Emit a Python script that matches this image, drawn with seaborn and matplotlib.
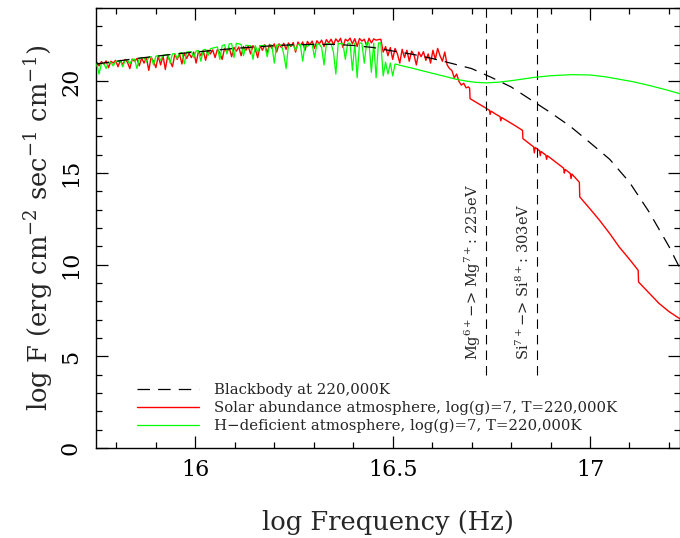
import numpy as np
import pandas as pd
import matplotlib
matplotlib.use("Agg")
import matplotlib.pyplot as plt
import seaborn as sns
from matplotlib.ticker import MultipleLocator

# blackbody at 220,000K
bb_freq = [15.75, 15.80, 15.85, 15.90, 15.95, 16.00, 16.05, 16.10, 16.15, 16.20,
           16.25, 16.30, 16.35, 16.40, 16.45, 16.50, 16.55, 16.60, 16.65, 16.70,
           16.75, 16.80, 16.85, 16.90, 16.95, 17.00, 17.05, 17.10, 17.15, 17.20, 17.228]
bb_flux = [20.95, 21.10, 21.25, 21.37, 21.50, 21.60, 21.70, 21.80, 21.88, 21.95,
           22.00, 22.02, 22.02, 21.96, 21.85, 21.66, 21.48, 21.25, 20.98, 20.70,
           20.22, 19.70, 19.00, 18.30, 17.55, 16.66, 15.75, 14.50, 12.87, 11.00, 9.80]

# line-blanketed part of the models, sampled every 0.006 dex from 15.75
grid_start = 15.75
grid_step = 0.006

solar_lined_flux = [
    21.05, 20.85, 21.08, 20.95, 21.12, 20.75, 21.10, 21.00, 21.15, 20.80,
    21.15, 20.90, 21.20, 21.05, 20.70, 21.22, 21.10, 21.25, 20.85, 21.28,
    21.00, 21.30, 20.60, 21.32, 21.10, 20.75, 21.38, 20.90, 21.40, 20.65,
    21.42, 21.10, 20.80, 21.48, 21.20, 21.50, 20.95, 21.55, 21.25, 21.52,
    21.30, 21.60, 21.00, 21.65, 21.40, 21.68, 21.15, 21.70, 21.50, 21.72,
    21.30, 21.75, 21.55, 21.20, 21.80, 21.60, 21.82, 21.35, 21.85, 21.65,
    21.88, 21.40, 21.90, 21.70, 21.92, 21.50, 21.95, 21.75, 21.30, 21.95,
    21.70, 22.00, 21.55, 22.02, 21.80, 22.05, 21.60, 22.05, 21.85, 22.08,
    21.75, 22.10, 21.90, 22.12, 21.60, 22.15, 21.95, 22.15, 21.70, 22.18,
    22.00, 22.20, 21.80, 22.22, 22.05, 22.25, 21.90, 22.28, 22.10, 22.30,
    22.00, 22.32, 22.15, 22.35, 21.85, 22.30, 22.20, 22.36, 22.05, 22.33,
    21.90, 22.34, 22.20, 22.30, 21.95, 22.35, 22.10, 22.32, 22.25, 22.28,
    22.30, 21.60, 21.90, 21.40, 21.85, 21.20, 21.80, 21.50, 21.00, 21.75,
    21.30, 21.70, 21.10, 21.65, 21.45, 20.90, 21.60, 21.35, 21.62, 21.15,
    21.50, 21.00, 21.70, 21.20, 21.80, 21.40, 21.10, 21.60, 20.90, 20.70,
    20.60, 20.20, 20.40, 20.00, 19.80, 19.90, 19.65, 19.70,
]
solar_tail_freq = [16.695, 16.696, 16.710, 16.720, 16.737, 16.745, 16.747, 16.749,
                   16.760, 16.772, 16.774, 16.776, 16.787, 16.810, 16.829, 16.830,
                   16.845, 16.857, 16.859, 16.861, 16.872, 16.874, 16.876, 16.888,
                   16.890, 16.892, 16.910, 16.933, 16.935, 16.937, 16.950, 16.952,
                   16.954, 16.973, 16.974, 17.000, 17.024, 17.050, 17.074, 17.100,
                   17.122, 17.123, 17.150, 17.175, 17.200, 17.228]
solar_tail_flux = [19.62, 19.06, 18.88, 18.75, 18.53, 18.43, 18.20, 18.38,
                   18.23, 18.08, 17.85, 18.03, 17.89, 17.59, 17.33, 16.88,
                   16.63, 16.43, 16.10, 16.40, 16.22, 15.95, 16.18, 15.98,
                   15.75, 15.95, 15.65, 15.27, 15.00, 15.20, 14.98, 14.70,
                   14.95, 14.50, 13.70, 13.05, 12.43, 11.70, 10.97, 10.30,
                   9.70, 9.06, 8.45, 7.89, 7.45, 7.05]

hdef_lined_flux = [
    20.95, 20.40, 21.00, 20.98, 20.70, 21.05, 21.03, 20.85, 21.08, 21.10,
    21.12, 20.80, 21.15, 21.18, 20.95, 21.20, 21.22, 20.70, 21.25, 21.28,
    21.30, 21.05, 21.33, 21.35, 20.90, 21.38, 21.40, 21.15, 21.42, 21.45,
    21.47, 21.00, 21.50, 21.52, 21.25, 21.55, 21.57, 20.95, 21.60, 21.62,
    21.63, 21.30, 21.66, 21.68, 21.10, 21.72, 21.75, 21.40, 21.78, 21.82,
    21.85, 21.88, 21.20, 21.95, 22.00, 21.50, 22.05, 22.06, 21.30, 22.08,
    22.05, 22.02, 21.40, 21.97, 21.96, 21.95, 21.20, 21.95, 21.60, 21.95,
    21.96, 21.97, 21.35, 21.97, 21.98, 21.00, 21.98, 21.98, 21.99, 21.50,
    20.70, 22.00, 21.95, 22.00, 21.70, 22.01, 22.01, 21.10, 22.02, 21.90,
    22.03, 22.02, 21.30, 22.04, 22.03, 21.85, 20.90, 22.05, 22.05, 22.04,
    21.60, 20.40, 22.07, 22.06, 22.07, 21.20, 22.08, 22.08, 20.60, 22.09,
    20.20, 22.10, 22.08, 21.00, 22.10, 22.10, 20.50, 22.09, 20.20, 22.10,
    22.10, 20.30, 21.05, 20.40, 21.00, 20.30, 20.95, 20.92, 20.88, 20.85,
]
hdef_tail_freq = [16.530, 16.550, 16.568, 16.600, 16.635, 16.660, 16.686, 16.710,
                  16.737, 16.770, 16.804, 16.830, 16.859, 16.900, 16.956, 17.000,
                  17.040, 17.074, 17.110, 17.150, 17.190, 17.228]
hdef_tail_flux = [20.82, 20.72, 20.62, 20.45, 20.26, 20.12, 20.02, 19.95,
                  19.92, 19.96, 20.05, 20.13, 20.22, 20.31, 20.37, 20.35,
                  20.25, 20.12, 19.98, 19.78, 19.56, 19.33]

# ionisation edges
edge_freq = [16.736, 16.865]
edge_labels = [r"Mg$^{6+}$$-$> Mg$^{7+}$: 225eV", r"Si$^{7+}$$-$> Si$^{8+}$: 303eV"]


def lined_freq(n):
    return np.round(grid_start + grid_step * np.arange(n), 3)


solar = pd.DataFrame({
    "freq": np.concatenate([lined_freq(len(solar_lined_flux)), solar_tail_freq]),
    "flux": solar_lined_flux + solar_tail_flux,
})
hdef = pd.DataFrame({
    "freq": np.concatenate([lined_freq(len(hdef_lined_flux)), hdef_tail_freq]),
    "flux": hdef_lined_flux + hdef_tail_flux,
})
bb = pd.DataFrame({"freq": bb_freq, "flux": bb_flux})

sns.set_style("ticks")
plt.rcParams["font.family"] = ["DejaVu Serif"]
plt.rcParams["mathtext.fontset"] = "dejavuserif"

fig, ax = plt.subplots(figsize=(6.8, 5.38), dpi=100)
fig.subplots_adjust(left=0.141, right=1.0, bottom=0.167, top=0.985)

sns.lineplot(data=bb, x="freq", y="flux", ax=ax, color="black", lw=0.9,
             linestyle=(0, (10, 6.5)), estimator=None, sort=False, zorder=4,
             label="Blackbody at 220,000K")
sns.lineplot(data=solar, x="freq", y="flux", ax=ax, color="#ff0000", lw=1.0,
             estimator=None, sort=False, zorder=2,
             label="Solar abundance atmosphere, log(g)=7, T=220,000K")
sns.lineplot(data=hdef, x="freq", y="flux", ax=ax, color="#00ff00", lw=0.9,
             estimator=None, sort=False, zorder=3,
             label="H\u2212deficient atmosphere, log(g)=7, T=220,000K")

ax.vlines(edge_freq, 4, 24, colors="black", linestyles=(0, (8.5, 5.5)), lw=0.8)
for f, txt in zip(edge_freq, edge_labels):
    ax.text(f - 0.033, 4.8, txt, rotation=90, ha="center", va="bottom", fontsize=10.5)

ax.set_xlim(15.748, 17.228)
ax.set_ylim(0, 24)
ax.xaxis.set_major_locator(MultipleLocator(0.5))
ax.xaxis.set_minor_locator(MultipleLocator(0.1))
ax.yaxis.set_major_locator(MultipleLocator(5))
ax.yaxis.set_minor_locator(MultipleLocator(1))
ax.set_xticks([16, 16.5, 17])
ax.set_xticklabels(["16", "16.5", "17"])
ax.tick_params(which="both", direction="in", top=True, right=True, width=0.9, colors="black")
ax.tick_params(which="major", length=8.5)
ax.tick_params(which="minor", length=4.3)
ax.tick_params(axis="x", labelsize=16, pad=8)
ax.tick_params(axis="y", labelsize=16, pad=10, labelrotation=90)
for lbl in ax.get_yticklabels():
    lbl.set_va("center")
for sp in ax.spines.values():
    sp.set_linewidth(1.0)
    sp.set_color("black")

ax.set_xlabel("log Frequency (Hz)", fontsize=18.5)
ax.set_ylabel(r"log F (erg cm$^{-2}$ sec$^{-1}$ cm$^{-1}$)", fontsize=18.5)
ax.xaxis.set_label_coords(0.5, -0.14)
ax.yaxis.set_label_coords(-0.07, 0.5)

ax.legend(loc="lower left", bbox_to_anchor=(0.07, 0.035), frameon=False,
          fontsize=10.7, handlelength=4.2, handletextpad=1.0, labelspacing=0.22,
          borderaxespad=0, borderpad=0)

plt.savefig("out.png", dpi=100)
